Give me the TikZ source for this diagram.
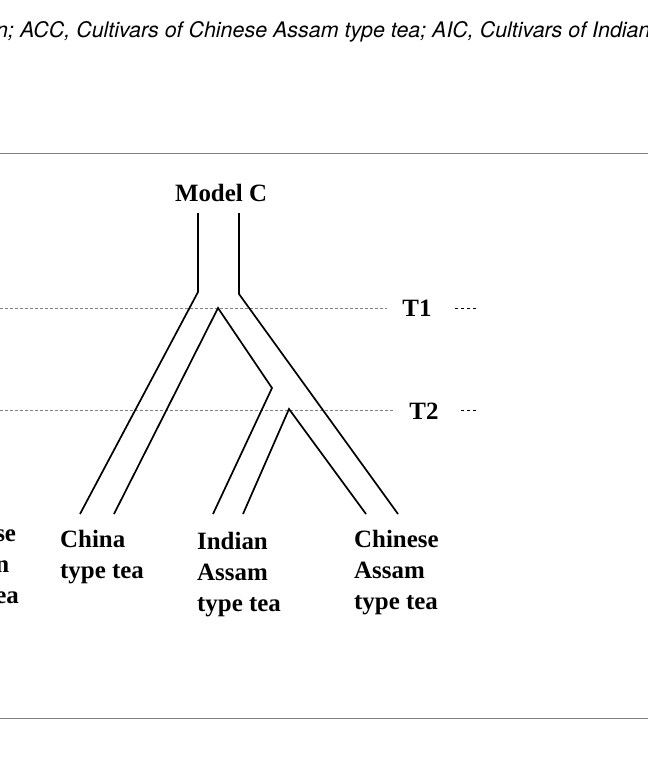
\documentclass[tikz,border=0pt]{standalone}
\usepackage{fontspec}
\setmainfont{Liberation Serif}
\newfontfamily\capfont{TeX Gyre Heros}
\begin{document}
\begin{tikzpicture}[x=1bp,y=-1bp,
  br/.style={line width=1.7bp,black},
  lvl/.style={gray,line width=0.6bp,dash pattern=on 3bp off 2bp},
  big/.style={font=\fontsize{25}{31}\selectfont\bfseries,inner sep=0pt},
  lab/.style={big,align=left,anchor=north west},
  rule/.style={gray,line width=0.8bp}]
\useasboundingbox (0,0) rectangle (648,762);
\clip (0,0) rectangle (648,762);
\node[anchor=west,inner sep=0pt,font=\capfont\itshape\fontsize{21.5}{24}\selectfont] (cap) at (-4,32) {n; ACC, Cultivars of Chinese Assam type tea; AIC, Cultivars of Indian};
\draw[rule] (0,153) -- (648,153);
\draw[rule] (0,718) -- (648,718);
\node[big] (m) at (221,193) {Model C};
% levels
\coordinate (t1a) at (0,308); \coordinate (t1b) at (387,308);
\coordinate (t2a) at (0,410); \coordinate (t2b) at (393,410);
\draw[lvl] (t1a) -- (t1b);
\draw[lvl] (t2a) -- (t2b);
\node[big] (T1) at (417,308) {T1};
\node[big] (T2) at (424,411) {T2};
\coordinate (d1a) at (455,308); \coordinate (d1b) at (479,308);
\coordinate (d2a) at (461,410); \coordinate (d2b) at (478,410);
\draw[black,line width=0.7bp,dash pattern=on 3bp off 3bp] (d1a) -- (d1b);
\draw[black,line width=0.7bp,dash pattern=on 3bp off 3bp] (d2a) -- (d2b);
% tree
\coordinate (a1) at (198,213); \coordinate (a2) at (198,292); \coordinate (a3) at (80,514);
\coordinate (b1) at (239,213); \coordinate (b2) at (239,294); \coordinate (b3) at (398,514);
\coordinate (p) at (218,308); \coordinate (c3) at (114,514);
\coordinate (k) at (272,388); \coordinate (k3) at (213,514);
\coordinate (q) at (289,409); \coordinate (q1) at (243,514); \coordinate (q2) at (366,514);
\draw[br] (a1) -- (a2) -- (a3);
\draw[br] (b1) -- (b2) -- (b3);
\draw[br] (c3) -- (p) -- (k) -- (k3);
\draw[br] (q1) -- (q) -- (q2);
% labels
\node[lab,anchor=north east] (l0) at (19,530) {se\\n\\ea};
\node[lab] (l1) at (60,530) {China\\type tea};
\node[lab] (l2) at (197,532) {Indian\\Assam\\type tea};
\node[lab] (l3) at (354,530) {Chinese\\Assam\\type tea};
\end{tikzpicture}
\end{document}
